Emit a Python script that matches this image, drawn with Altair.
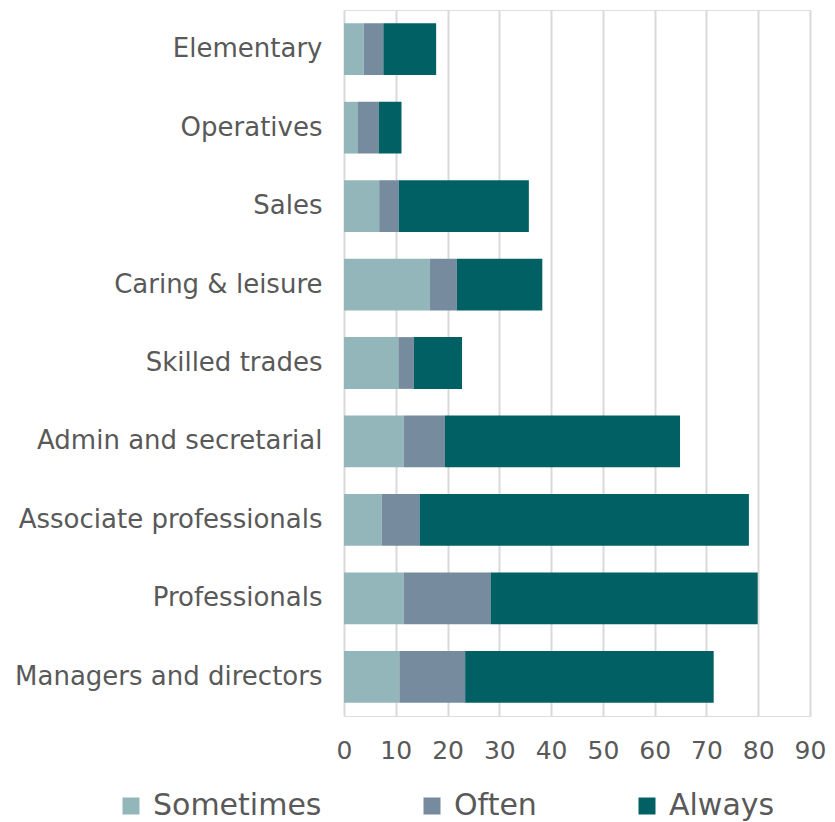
import altair as alt
import pandas as pd

categories = ["Elementary", "Operatives", "Sales", "Caring & leisure", "Skilled trades",
              "Admin and secretarial", "Associate professionals", "Professionals",
              "Managers and directors"]
sometimes = [3.8, 2.7, 6.8, 16.6, 10.5, 11.5, 7.3, 11.5, 10.7]
often = [3.8, 4.0, 3.8, 5.2, 3.0, 8.0, 7.3, 16.8, 12.7]
always = [10.2, 4.4, 25.1, 16.5, 9.3, 45.4, 63.6, 51.6, 48.0]
series = ["Sometimes", "Often", "Always"]
colors = ["#93B6BB", "#768B9E", "#006064"]
x_ticks = [0, 10, 20, 30, 40, 50, 60, 70, 80, 90]

rows = []
for i, c in enumerate(categories):
    for k, (s, vals) in enumerate(zip(series, [sometimes, often, always])):
        rows.append({"category": c, "series": s, "value": vals[i], "order": k})
df = pd.DataFrame(rows)

FONT = "DejaVu Sans"
GREY = "#595959"

chart = alt.Chart(df).mark_bar().encode(
    y=alt.Y("category:N", sort=categories, title=None,
            scale=alt.Scale(paddingInner=0.34, paddingOuter=0.17),
            axis=alt.Axis(labelFontSize=26, labelColor=GREY, labelFont=FONT,
                          labelPadding=22, ticks=False, domain=False, labelLimit=400)),
    x=alt.X("value:Q", title=None, stack="zero",
            scale=alt.Scale(domain=[0, 90], nice=False),
            axis=alt.Axis(values=x_ticks, labelFontSize=25, labelColor=GREY, labelFont=FONT,
                          labelFlush=False, labelOverlap=False,
                          grid=True, gridColor="#D9D9D9", gridWidth=2, ticks=False,
                          domain=False, labelPadding=22)),
    color=alt.Color("series:N", sort=series,
                    scale=alt.Scale(domain=series, range=colors),
                    legend=alt.Legend(title=None, orient="none", direction="horizontal",
                                      legendX=-228, legendY=781,
                                      symbolType="square", symbolSize=289,
                                      symbolStrokeWidth=0, labelFontSize=30,
                                      labelColor=GREY, labelFont=FONT, labelOffset=7,
                                      columnPadding=95, labelLimit=400)),
    order=alt.Order("order:Q"),
).properties(
    width=466, height=706,
    autosize=alt.AutoSizeParams(type="none"),
    padding={"left": 336, "top": 2, "right": 17, "bottom": 110},
).configure_view(stroke=None).configure(background="white")

chart.save("out.html", embed_options={"renderer": "svg", "actions": False})
